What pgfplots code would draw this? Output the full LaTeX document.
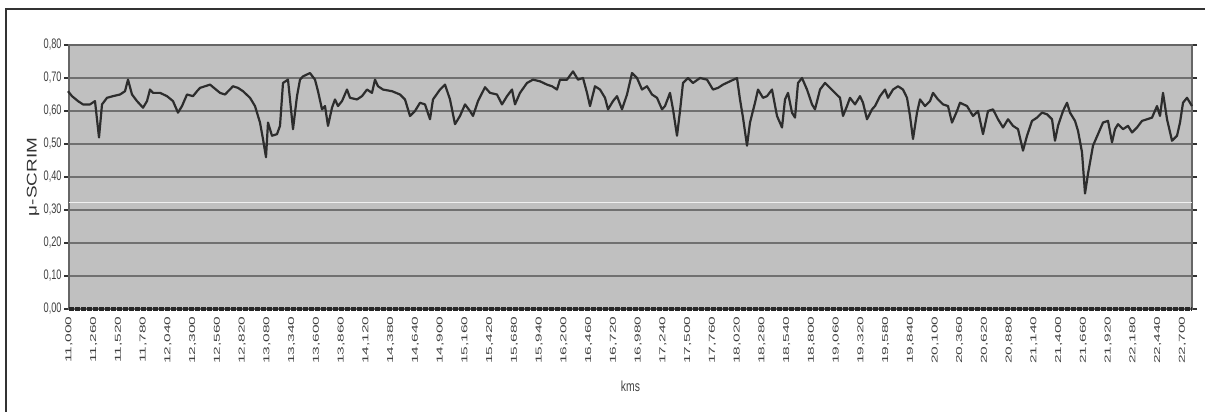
\documentclass[border=0pt]{standalone}
\usepackage{pgfplots}
\usepackage{pgfplotstable}
\pgfplotsset{compat=1.18}
\usepackage{fontspec}
\setmainfont{Liberation Sans}
\definecolor{plotbg}{RGB}{192,192,192}
\definecolor{gridc}{RGB}{112,112,112}
\definecolor{linec}{RGB}{45,45,45}

% px = horizontal pixel position, v = mu-SCRIM value
\pgfplotstableread{
px v
68 0.66
72 0.645
78 0.63
83 0.62
90 0.62
95 0.63
99 0.52
102 0.62
107 0.64
113 0.645
120 0.65
125 0.66
128 0.695
132 0.65
137 0.63
143 0.61
147 0.63
150 0.665
153 0.655
160 0.655
167 0.645
173 0.63
178 0.595
182 0.615
187 0.65
193 0.645
197 0.66
200 0.67
210 0.68
220 0.655
225 0.65
233 0.675
238 0.67
243 0.66
250 0.64
255 0.615
260 0.565
263 0.515
266 0.46
268 0.565
272 0.525
277 0.53
280 0.555
283 0.685
288 0.695
293 0.545
297 0.645
300 0.695
303 0.705
310 0.715
315 0.695
318 0.66
322 0.605
325 0.615
328 0.555
332 0.61
335 0.635
338 0.615
342 0.63
347 0.665
350 0.64
357 0.635
362 0.645
367 0.665
372 0.655
375 0.695
378 0.675
383 0.665
392 0.66
400 0.65
405 0.635
410 0.585
415 0.60
420 0.625
425 0.62
430 0.575
433 0.635
440 0.665
445 0.68
450 0.635
455 0.56
460 0.585
465 0.62
470 0.60
473 0.585
478 0.63
485 0.672
490 0.655
497 0.65
502 0.62
507 0.645
512 0.665
515 0.62
520 0.655
527 0.685
533 0.695
540 0.69
547 0.68
552 0.675
557 0.665
560 0.695
567 0.695
573 0.72
578 0.695
583 0.70
587 0.655
590 0.615
595 0.675
600 0.665
605 0.64
608 0.605
613 0.63
617 0.645
622 0.605
627 0.65
632 0.715
637 0.70
642 0.665
647 0.675
652 0.65
657 0.64
662 0.605
665 0.615
670 0.655
673 0.605
677 0.525
680 0.60
683 0.685
688 0.70
693 0.685
700 0.70
707 0.695
713 0.665
718 0.67
723 0.68
730 0.69
737 0.70
740 0.635
743 0.58
747 0.495
750 0.565
755 0.625
758 0.665
763 0.64
767 0.645
772 0.665
777 0.585
782 0.55
785 0.635
788 0.655
792 0.595
795 0.58
798 0.685
802 0.70
807 0.665
812 0.62
815 0.605
820 0.665
825 0.685
830 0.67
835 0.655
840 0.64
843 0.585
847 0.615
850 0.64
855 0.62
860 0.645
863 0.625
867 0.575
872 0.605
875 0.615
880 0.645
885 0.665
888 0.64
893 0.665
898 0.675
903 0.665
907 0.64
910 0.585
913 0.515
917 0.595
920 0.635
925 0.615
930 0.63
933 0.655
938 0.635
943 0.62
948 0.615
952 0.565
957 0.60
960 0.625
967 0.615
973 0.585
978 0.60
983 0.53
988 0.60
993 0.605
998 0.575
1003 0.55
1008 0.575
1013 0.555
1018 0.545
1023 0.48
1027 0.525
1032 0.57
1037 0.58
1042 0.595
1047 0.59
1052 0.575
1055 0.51
1058 0.555
1063 0.60
1067 0.625
1070 0.595
1075 0.57
1078 0.54
1082 0.475
1085 0.35
1088 0.41
1093 0.495
1098 0.53
1103 0.565
1108 0.57
1112 0.505
1115 0.545
1118 0.56
1123 0.545
1128 0.555
1132 0.535
1137 0.55
1142 0.57
1147 0.575
1152 0.58
1157 0.615
1160 0.585
1163 0.655
1167 0.575
1172 0.51
1177 0.525
1180 0.565
1183 0.625
1187 0.64
1192 0.615
}\scrim

\begin{document}
\begin{tikzpicture}
\useasboundingbox (0,0) rectangle (602.5pt,206pt);
\draw[black!80, line width=1pt] (3pt,0) -- (3pt,201.5pt) -- (602.5pt,201.5pt);
\begin{axis}[
  at={(34.5pt,51.5pt)}, anchor=south west,
  scale only axis, width=561.5pt, height=132pt,
  xmin=11, xmax=22.8, ymin=0, ymax=0.8,
  axis background/.style={fill=plotbg},
  axis line style={draw=gray!80!black, line width=0.6pt},
  ytick={0,0.1,0.2,0.3,0.4,0.5,0.6,0.7,0.8},
  xtick={11.00,11.26,11.52,11.78,12.04,12.30,12.56,12.82,13.08,13.34,13.60,13.86,14.12,14.38,14.64,14.90,15.16,15.42,15.68,15.94,16.20,16.46,16.72,16.98,17.24,17.50,17.76,18.02,18.28,18.54,18.80,19.06,19.32,19.58,19.84,20.10,20.36,20.62,20.88,21.14,21.40,21.66,21.92,22.18,22.44,22.70},
  ymajorgrids, grid style={draw=gridc, line width=1pt},
  xtick style={draw=none},
  ytick style={draw=black!80, line width=0.6pt},
  tick align=outside, major tick length=2.5pt,
  xticklabel={\scalebox{1.8}[1]{\fontsize{4.3}{5}\selectfont\pgfmathprintnumber[assume math mode=true,fixed,fixed zerofill,precision=3,use comma]{\tick}}},
  yticklabel={\scalebox{1}[1.5]{\fontsize{4.6}{5}\selectfont\pgfmathprintnumber[assume math mode=true,fixed,fixed zerofill,precision=2,use comma]{\tick}}},
  xticklabel style={rotate=90, anchor=east, inner sep=1pt, text=black!75},
  yticklabel style={inner sep=1pt, text=black!75},
  every axis y label/.style={at={(axis description cs:-0.032,0.5)}, anchor=center, rotate=90},
  every axis x label/.style={at={(axis description cs:0.5,-0.292)}, anchor=center},
  ylabel={\scalebox{1.35}[1]{\fontsize{7}{8}\selectfont\color{black!80}μ-SCRIM}},
  xlabel={\scalebox{1}[1.4]{\fontsize{5.2}{6}\selectfont\color{black!75}kms}},
  clip=false,
]
\draw[white!88!gray, line width=0.8pt] (axis cs:11,0.323) -- (axis cs:22.8,0.323);
\addplot[black!85, line width=2pt, dash pattern=on 2.5pt off 0.5pt, forget plot] coordinates {(11,0) (22.8,0)};
\addplot[linec, line width=1.1pt, line join=round, mark=none]
  table[x expr={11+(\thisrow{px}-69)*0.0105076}, y=v] {\scrim};
\end{axis}
\end{tikzpicture}
\end{document}
